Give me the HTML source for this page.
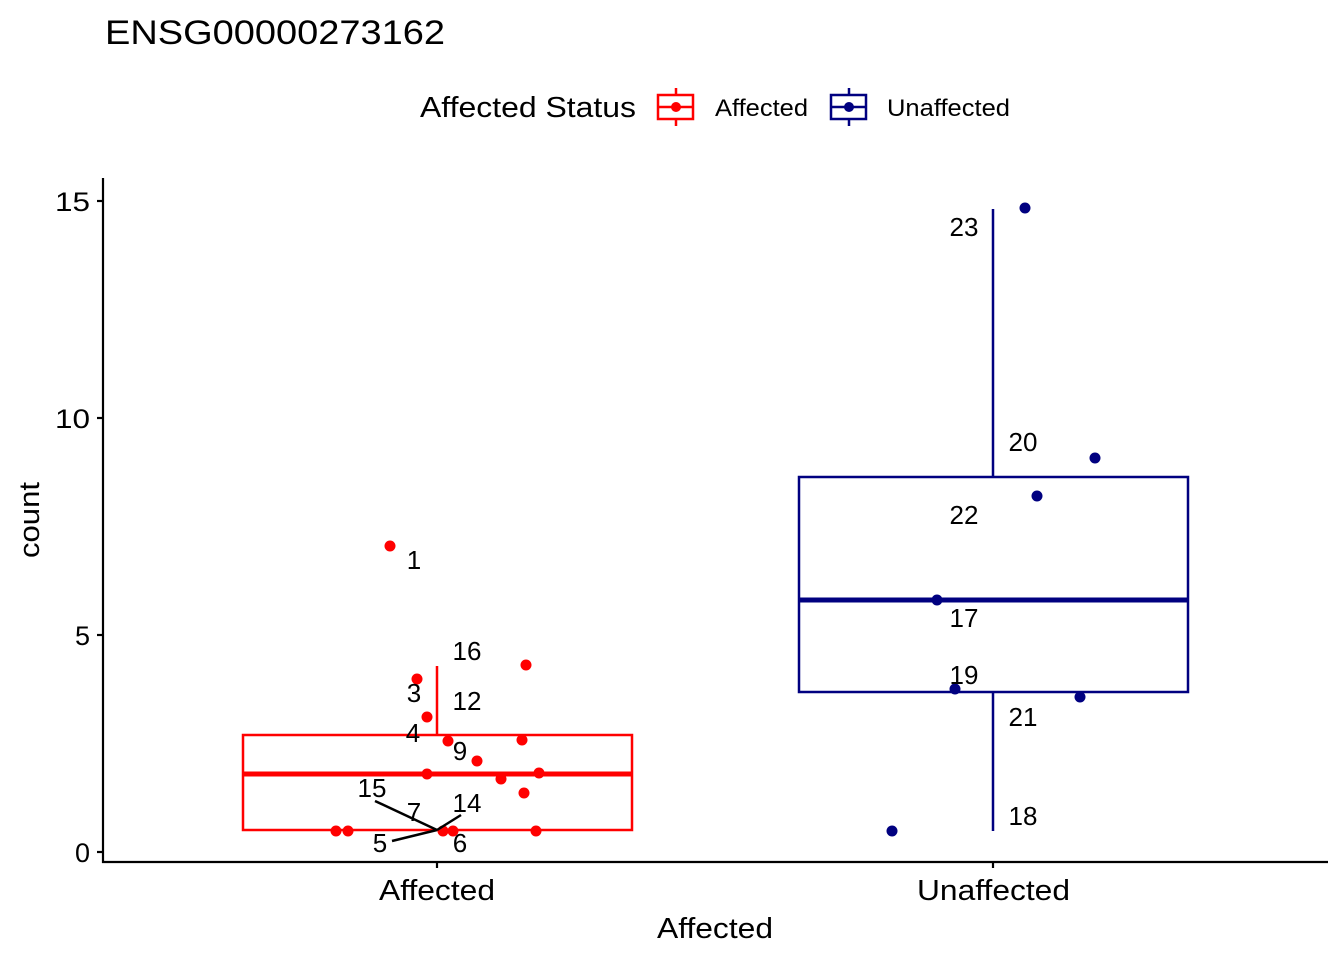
<!DOCTYPE html>
<html><head><meta charset="utf-8"><style>html,body{margin:0;padding:0;background:#fff}svg{display:block}</style></head>
<body>
<svg width="1344" height="960" viewBox="0 0 1344 960" xmlns="http://www.w3.org/2000/svg" font-family="Liberation Sans, sans-serif">
<rect width="1344" height="960" fill="#fff"/>
<text x="105" y="44" font-size="34" textLength="340" lengthAdjust="spacingAndGlyphs">ENSG00000273162</text>
<!-- legend -->
<text x="420" y="117" font-size="29" textLength="216" lengthAdjust="spacingAndGlyphs">Affected Status</text>
<g stroke="#ff0000" stroke-width="2.5" fill="none">
<rect x="658" y="95" width="35" height="24"/><line x1="658" y1="107" x2="693" y2="107"/><line x1="676" y1="88" x2="676" y2="95"/><line x1="676" y1="119" x2="676" y2="126"/></g>
<circle cx="676" cy="107" r="5" fill="#ff0000"/>
<text x="715" y="116" font-size="24" textLength="93" lengthAdjust="spacingAndGlyphs">Affected</text>
<g stroke="#000080" stroke-width="2.5" fill="none">
<rect x="831" y="95" width="35" height="24"/><line x1="831" y1="107" x2="866" y2="107"/><line x1="849" y1="88" x2="849" y2="95"/><line x1="849" y1="119" x2="849" y2="126"/></g>
<circle cx="849" cy="107" r="5" fill="#000080"/>
<text x="887" y="116" font-size="24" textLength="123" lengthAdjust="spacingAndGlyphs">Unaffected</text>
<!-- axes -->
<g stroke="#000" stroke-width="2.2">
<line x1="103" y1="178" x2="103" y2="863"/><line x1="102" y1="862" x2="1328" y2="862"/>
<line x1="97" y1="201" x2="103" y2="201"/><line x1="97" y1="418" x2="103" y2="418"/><line x1="97" y1="635" x2="103" y2="635"/><line x1="97" y1="852" x2="103" y2="852"/>
<line x1="437" y1="862" x2="437" y2="868"/><line x1="993" y1="862" x2="993" y2="868"/>
</g>
<g font-size="27" text-anchor="end">
<text x="90" y="211" textLength="35" lengthAdjust="spacingAndGlyphs">15</text><text x="90" y="428" textLength="35" lengthAdjust="spacingAndGlyphs">10</text><text x="90" y="645">5</text><text x="90" y="862">0</text></g>
<g font-size="29">
<text x="379" y="900" textLength="116" lengthAdjust="spacingAndGlyphs">Affected</text>
<text x="917" y="900" textLength="153" lengthAdjust="spacingAndGlyphs">Unaffected</text>
<text x="657" y="938" textLength="116" lengthAdjust="spacingAndGlyphs">Affected</text>
<text transform="translate(39,558) rotate(-90)" textLength="76" lengthAdjust="spacingAndGlyphs">count</text></g>
<!-- affected box -->
<g stroke="#ff0000" fill="none">
<line x1="437" y1="666" x2="437" y2="735" stroke-width="2.5"/>
<rect x="243" y="735" width="389" height="95" stroke-width="2.5"/>
<line x1="243" y1="774" x2="632" y2="774" stroke-width="5"/></g>
<!-- unaffected box -->
<g stroke="#000080" fill="none">
<line x1="993" y1="209" x2="993" y2="477" stroke-width="2.5"/>
<line x1="993" y1="692" x2="993" y2="831" stroke-width="2.5"/>
<rect x="799" y="477" width="389" height="215" stroke-width="2.5"/>
<line x1="799" y1="600" x2="1188" y2="600" stroke-width="5"/></g>
<g fill="#ff0000">
<circle cx="390" cy="546" r="5.5"/><circle cx="417" cy="679" r="5.5"/><circle cx="427" cy="717" r="5.5"/><circle cx="448" cy="741" r="5.5"/><circle cx="477" cy="761" r="5.5"/><circle cx="427" cy="774" r="5.5"/><circle cx="501" cy="779" r="5.5"/><circle cx="539" cy="773" r="5.5"/><circle cx="522" cy="740" r="5.5"/><circle cx="524" cy="793" r="5.5"/><circle cx="526" cy="665" r="5.5"/><circle cx="336" cy="831" r="5.5"/><circle cx="348" cy="831" r="5.5"/><circle cx="443" cy="831" r="5.5"/><circle cx="453" cy="831" r="5.5"/><circle cx="536" cy="831" r="5.5"/></g>
<g fill="#000080">
<circle cx="1025" cy="208" r="5.5"/><circle cx="1095" cy="458" r="5.5"/><circle cx="1037" cy="496" r="5.5"/><circle cx="937" cy="600" r="5.5"/><circle cx="955" cy="689" r="5.5"/><circle cx="1080" cy="697" r="5.5"/><circle cx="892" cy="831" r="5.5"/></g>
<g stroke="#000" stroke-width="2.5">
<line x1="375" y1="801" x2="437" y2="830"/><line x1="392" y1="841" x2="437" y2="830"/><line x1="437" y1="830" x2="461" y2="815"/></g>
<g font-size="26" text-anchor="middle">
<text x="414" y="569">1</text><text x="467" y="660">16</text><text x="414" y="702">3</text><text x="467" y="710">12</text><text x="413" y="742">4</text><text x="460" y="760">9</text><text x="372" y="797">15</text><text x="414" y="821">7</text><text x="467" y="812">14</text><text x="380" y="852">5</text><text x="460" y="852">6</text>
<text x="964" y="236">23</text><text x="1023" y="451">20</text><text x="964" y="524">22</text><text x="964" y="627">17</text><text x="964" y="684">19</text><text x="1023" y="726">21</text><text x="1023" y="825">18</text></g>
</svg>
</body></html>
